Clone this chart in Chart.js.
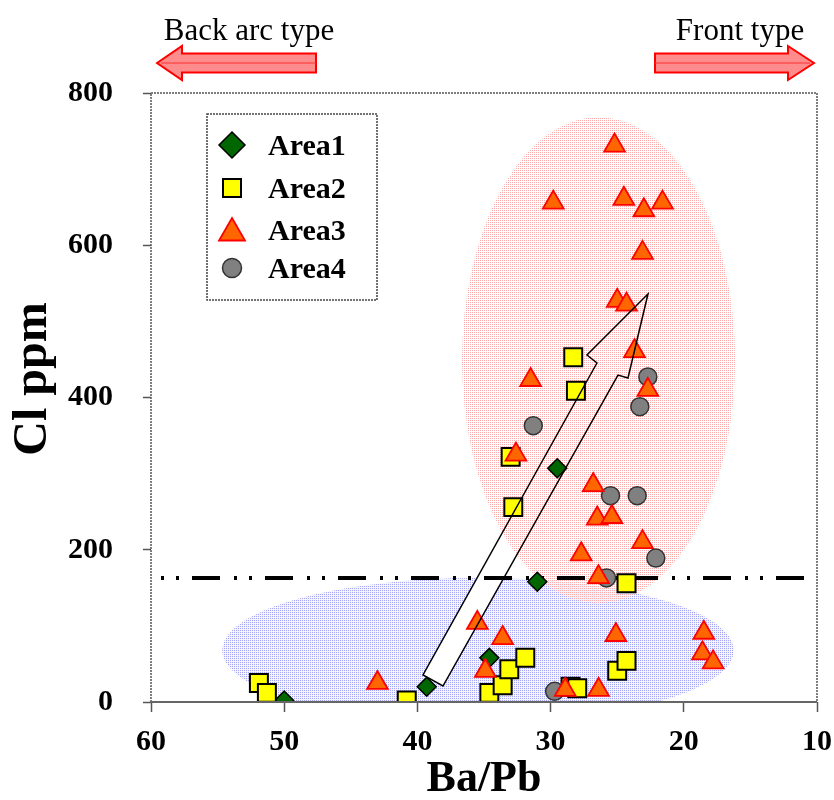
<!DOCTYPE html>
<html><head><meta charset="utf-8">
<script src="https://cdn.jsdelivr.net/npm/chart.js@4.4.0/dist/chart.umd.min.js"></script>
<style>html,body{margin:0;padding:0;background:#fff}#wrap{width:834px;height:800px}</style>
</head><body><div id="wrap"><canvas id="c" width="834" height="800"></canvas></div>
<script>
// ---- data ----
const xTicks = [60, 50, 40, 30, 20, 10];
const yTicks = [0, 200, 400, 600, 800];
const seriesNames = ['Area1', 'Area2', 'Area3', 'Area4'];
const area1X = [50.0, 39.3, 34.6, 31.0, 29.5];
const area1Y = [2, 20, 58, 158, 307];
const area2X = [51.9, 51.3, 40.8, 34.6, 33.6, 33.1, 31.9, 28.5, 28.0, 25.0, 24.3, 24.3, 32.8, 33.0, 28.1, 28.3];
const area2Y = [25, 12, 2, 12, 22, 43, 58, 20, 18, 41, 54, 156, 256, 322, 409, 453];
const area3X = [25.2, 29.8, 24.5, 23.0, 21.6, 23.1, 25.0, 24.3, 23.7, 31.5, 22.7, 32.6, 26.8, 26.5, 25.4, 23.1, 27.7, 26.4, 35.5, 33.6, 34.9, 25.1, 18.5, 18.6, 17.8, 26.4, 28.9, 43.0];
const area3Y = [731, 656, 661, 646, 656, 590, 527, 522, 461, 423, 410, 325, 285, 241, 243, 210, 194, 164, 104, 84, 41, 88, 91, 64, 52, 16, 16, 25];
const area4X = [22.7, 23.3, 31.3, 25.5, 23.5, 22.1, 25.8, 29.7];
const area4Y = [427, 388, 363, 271, 271, 189, 163, 14];
const clThreshold = 163;
// annotation geometry in data units
const pinkEllipse = {cx: 26.4, cy: 449, rx: 10.25, ry: 319};
const blueEllipse = {cx: 35.45, cy: 68, rx: 19.2, ry: 95};
const trendArrowX = [22.69, 27.27, 26.52, 39.58, 38.08, 24.94, 24.19];
const trendArrowY = [535.9, 455.8, 445.3, 35.5, 21.0, 429.5, 425.6];
const headerLeft = 'Back arc type';
const headerRight = 'Front type';
const xTitle = 'Ba/Pb';
const yTitle = 'Cl ppm';

const pts = (xs, ys) => xs.map((v, i) => ({x: v, y: ys[i]}));
const SERIF = '"Liberation Serif", "Times New Roman", serif';

const styles = [
  {pointStyle: 'rectRot', radius: 9.5, backgroundColor: '#006600', borderColor: '#000', borderWidth: 1.5, order: 3},
  {pointStyle: 'rect', radius: 12.7, backgroundColor: '#ffff00', borderColor: '#000', borderWidth: 2, order: 2},
  {pointStyle: 'triangle', radius: 12, backgroundColor: '#ff6600', borderColor: '#ff0000', borderWidth: 1.8, order: 1},
  {pointStyle: 'circle', radius: 9, backgroundColor: '#808080', borderColor: '#333', borderWidth: 1.5, order: 4}
];
const dataArr = [pts(area1X, area1Y), pts(area2X, area2Y), pts(area3X, area3Y), pts(area4X, area4Y)];

const ctx0 = document.getElementById('c').getContext('2d');
function makePattern(col, bg) {
  const c = document.createElement('canvas'); c.width = 2; c.height = 2;
  const g = c.getContext('2d');
  if (bg) { g.fillStyle = bg; g.fillRect(0, 0, 2, 2); }
  g.fillStyle = col; g.fillRect(0, 0, 1, 1);
  return ctx0.createPattern(c, 'repeat');
}
const pinkPat = makePattern('rgb(255,170,170)', null);
const bluePat = makePattern('rgb(165,165,245)', '#f4f4ff');

function drawEllipse(ctx, x, y, e, fill) {
  const cx = x.getPixelForValue(e.cx), cy = y.getPixelForValue(e.cy);
  const rx = Math.abs(x.getPixelForValue(e.cx + e.rx) - cx);
  const ry = Math.abs(y.getPixelForValue(e.cy + e.ry) - cy);
  ctx.beginPath(); ctx.ellipse(cx, cy, rx, ry, 0, 0, Math.PI * 2);
  ctx.fillStyle = fill; ctx.fill();
}
function arrowPath(ctx, x, y) {
  ctx.beginPath();
  trendArrowX.forEach((v, i) => {
    const px = x.getPixelForValue(v), py = y.getPixelForValue(trendArrowY[i]);
    if (i === 0) ctx.moveTo(px, py); else ctx.lineTo(px, py);
  });
  ctx.closePath();
}
function marker(ctx, st, cx, cy, r) {
  ctx.save();
  ctx.fillStyle = st.backgroundColor; ctx.strokeStyle = st.borderColor; ctx.lineWidth = st.borderWidth;
  ctx.beginPath();
  if (st.pointStyle === 'rectRot') {
    ctx.moveTo(cx, cy - r); ctx.lineTo(cx + r, cy); ctx.lineTo(cx, cy + r); ctx.lineTo(cx - r, cy); ctx.closePath();
  } else if (st.pointStyle === 'rect') {
    ctx.rect(cx - r, cy - r, 2 * r, 2 * r);
  } else if (st.pointStyle === 'triangle') {
    ctx.moveTo(cx, cy - r); ctx.lineTo(cx + r * 0.866, cy + r / 2); ctx.lineTo(cx - r * 0.866, cy + r / 2); ctx.closePath();
  } else {
    ctx.arc(cx, cy, r, 0, Math.PI * 2);
  }
  ctx.fill(); ctx.stroke();
  ctx.restore();
}
function blockArrow(ctx, tipX, backX, tailX, cy, dir) {
  ctx.save();
  ctx.beginPath();
  ctx.moveTo(tipX, cy);
  ctx.lineTo(backX, cy - 17);
  ctx.lineTo(backX, cy - 9.5);
  ctx.lineTo(tailX, cy - 9.5);
  ctx.lineTo(tailX, cy + 9.5);
  ctx.lineTo(backX, cy + 9.5);
  ctx.lineTo(backX, cy + 17);
  ctx.closePath();
  ctx.fillStyle = 'rgba(255,120,120,0.85)'; ctx.fill();
  ctx.strokeStyle = '#ff0000'; ctx.lineWidth = 2; ctx.stroke();
  ctx.beginPath(); ctx.moveTo(tailX, cy); ctx.lineTo(tipX - dir * 4, cy);
  ctx.lineWidth = 1; ctx.strokeStyle = '#ff3030'; ctx.stroke();
  ctx.restore();
}

const deco = {
  id: 'deco',
  beforeDatasetsDraw(chart) {
    const {ctx, chartArea: a, scales: {x, y}} = chart;
    ctx.save();
    ctx.beginPath(); ctx.rect(a.left, a.top, a.right - a.left, a.bottom - a.top); ctx.clip();
    drawEllipse(ctx, x, y, blueEllipse, bluePat);
    arrowPath(ctx, x, y); ctx.fillStyle = '#fff'; ctx.fill();
    drawEllipse(ctx, x, y, pinkEllipse, pinkPat);
    // threshold line
    const py = y.getPixelForValue(clThreshold);
    ctx.beginPath(); ctx.moveTo(a.left + 10, py); ctx.lineTo(a.right - 1, py);
    ctx.setLineDash([3, 12, 3, 13, 28, 14]);
    ctx.lineWidth = 4; ctx.strokeStyle = '#000'; ctx.stroke();
    ctx.restore();
  },
  afterDatasetsDraw(chart) {
    const {ctx, scales: {x, y}} = chart;
    ctx.save();
    arrowPath(ctx, x, y);
    ctx.lineWidth = 1.5; ctx.strokeStyle = '#000'; ctx.lineJoin = 'miter'; ctx.stroke();
    ctx.restore();
  },
  afterDraw(chart) {
    const {ctx, chartArea: a} = chart;
    ctx.save();
    // frame
    ctx.strokeStyle = '#555'; ctx.lineWidth = 1.5;
    ctx.setLineDash([2, 1]);
    ctx.beginPath();
    ctx.moveTo(a.left, a.bottom); ctx.lineTo(a.left, a.top); ctx.lineTo(a.right, a.top); ctx.lineTo(a.right, a.bottom);
    ctx.stroke();
    ctx.setLineDash([]);
    ctx.strokeStyle = '#666'; ctx.lineWidth = 2;
    ctx.beginPath(); ctx.moveTo(a.left, a.bottom); ctx.lineTo(a.right, a.bottom); ctx.stroke();

    // legend
    const lx = a.left + 56, ly = a.top + 21, lw = 170, lh = 186;
    ctx.fillStyle = '#fff'; ctx.fillRect(lx, ly, lw, lh);
    ctx.setLineDash([2, 1]); ctx.strokeStyle = '#444'; ctx.lineWidth = 1.5;
    ctx.strokeRect(lx, ly, lw, lh); ctx.setLineDash([]);
    const rowY = [31, 74, 116, 154];
    const mr = [13, 9, 15, 9.5];
    seriesNames.forEach((n, i) => {
      marker(ctx, styles[i], lx + 25, ly + rowY[i] + (i === 2 ? 3 : 0), mr[i]);
      ctx.fillStyle = '#000'; ctx.font = 'bold 30px ' + SERIF;
      ctx.textAlign = 'left'; ctx.textBaseline = 'middle';
      ctx.fillText(n, lx + 61, ly + rowY[i] + 2);
    });

    // axis titles
    ctx.fillStyle = '#000';
    ctx.font = 'bold 44px ' + SERIF; ctx.textAlign = 'center'; ctx.textBaseline = 'middle';
    ctx.fillText(xTitle, (a.left + a.right) / 2, 780);
    ctx.save(); ctx.translate(34, 379); ctx.rotate(-Math.PI / 2);
    ctx.font = 'bold 48px ' + SERIF; ctx.fillText(yTitle, 0, 0); ctx.restore();

    // header arrows and text
    ctx.font = '31px ' + SERIF; ctx.textBaseline = 'alphabetic';
    ctx.textAlign = 'center';
    ctx.fillText(headerLeft, 249, 40);
    ctx.fillText(headerRight, 740, 40);
    blockArrow(ctx, 157, 182, 316, 63, -1);
    blockArrow(ctx, 814, 788, 655, 63, 1);
    ctx.restore();
  }
};

new Chart(ctx0, {
  type: 'scatter',
  data: {
    datasets: seriesNames.map((n, i) => Object.assign({label: n, data: dataArr[i]}, styles[i], {
      pointRadius: styles[i].radius, pointHoverRadius: styles[i].radius
    }))
  },
  options: {
    responsive: false, animation: false, devicePixelRatio: 1,
    layout: {padding: {top: 93, right: 17, left: 0, bottom: 0}},
    plugins: {legend: {display: false}, tooltip: {enabled: false}},
    scales: {
      x: {
        type: 'linear', min: 10, max: 60, reverse: true,
        afterBuildTicks: s => { s.ticks = xTicks.map(v => ({value: v})); },
        afterFit: s => { s.height = 98; s.paddingLeft = 0; s.paddingRight = 0; },
        ticks: {color: '#000', font: {family: SERIF, size: 30, weight: 'bold'}, padding: 12, maxRotation: 0},
        grid: {drawOnChartArea: false, drawTicks: true, tickLength: 10, tickColor: '#555', tickWidth: 1.5},
        border: {display: false}
      },
      y: {
        type: 'linear', min: 0, max: 800,
        afterBuildTicks: s => { s.ticks = yTicks.map(v => ({value: v})); },
        afterFit: s => { s.width = 151; s.paddingTop = 0; s.paddingBottom = 0; },
        ticks: {color: '#000', font: {family: SERIF, size: 30, weight: 'bold'}, padding: 30},
        grid: {drawOnChartArea: false, drawTicks: true, tickLength: 8, tickColor: '#555', tickWidth: 1.5},
        border: {display: false}
      }
    }
  },
  plugins: [deco]
});
</script></body></html>
